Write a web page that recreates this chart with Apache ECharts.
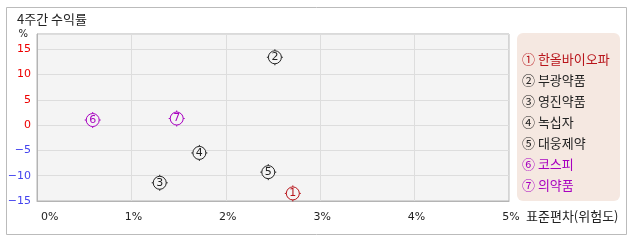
<!DOCTYPE html>
<html><head><meta charset="utf-8">
<script src="https://cdn.jsdelivr.net/npm/echarts@6/dist/echarts.min.js"></script>
<style>html,body{margin:0;padding:0;background:#fff}#c{width:638px;height:242px}</style>
</head><body><div id="c"></div>
<script>
// ---- data ----
const names = ['한올바이오파', '부광약품', '영진약품', '녹십자', '대웅제약', '코스피', '의약품'];
const markNums = ['1', '2', '3', '4', '5', '6', '7'];
const circled = ['①', '②', '③', '④', '⑤', '⑥', '⑦'];
const stdDev = [2.71, 2.52, 1.30, 1.72, 2.45, 0.59, 1.48];      // x: 표준편차 (%)
const returns4w = [-13.5, 13.4, -11.4, -5.5, -9.3, 1.0, 1.3];    // y: 4주간 수익률 (%)
const xTicks = [0, 1, 2, 3, 4, 5];
const yTicks = [-15, -10, -5, 0, 5, 10, 15];

// ---- style ----
const colors = ['#b8141a', '#222222', '#222222', '#222222', '#222222', '#a800c0', '#a800c0'];
const FONT = "'Noto Sans CJK KR', 'DejaVu Sans', sans-serif";
const MARK = 'path://M8,0L8,1.5M8,14.5L8,16M0,8L1.5,8M14.5,8L16,8M14.5,8A6.5,6.5,0,1,1,1.5,8A6.5,6.5,0,1,1,14.5,8Z';

const chart = echarts.init(document.getElementById('c'), null, {renderer: 'canvas'});

const series = names.map((n, i) => ({
  name: n,
  type: 'scatter',
  data: [[stdDev[i], returns4w[i]]],
  symbol: MARK,
  symbolSize: 16,
  itemStyle: {color: '#f4f4f4', borderColor: colors[i], borderWidth: 1, opacity: 1},
  label: {show: true, position: 'inside', formatter: markNums[i], color: colors[i],
          fontSize: 11, fontFamily: 'DejaVu Sans'},
  emphasis: {disabled: true},
  z: 3
}));

chart.setOption({
  animation: false,
  textStyle: {fontFamily: FONT},
  title: {
    text: '4주간 수익률', left: 12, top: 8,
    textStyle: {fontSize: 13, fontWeight: 'normal', color: '#222', fontFamily: FONT}
  },
  graphic: [
    {type: 'rect', shape: {x: 6.5, y: 7.5, width: 620, height: 227}, style: {fill: 'none', stroke: '#bbbbbb', lineWidth: 1}, z: -10},
    {type: 'rect', shape: {x: 517, y: 33, width: 103, height: 168, r: 6}, style: {fill: '#f5e8e1'}, z: -5}
  ],
  grid: {left: 37, top: 34, right: 129, bottom: 41, show: true, backgroundColor: '#f4f4f4', borderColor: '#b4b4b4', borderWidth: 1},
  legend: {
    orient: 'vertical', left: 517, top: 48, icon: 'none', itemWidth: 0, itemHeight: 13, itemGap: 8,
    selectedMode: false,
    data: names.map((n, i) => ({name: n, textStyle: {color: colors[i]}})),
    formatter: n => circled[names.indexOf(n)] + ' ' + n,
    textStyle: {fontSize: 13, fontFamily: FONT, padding: [0, 0, 0, -5]}
  },
  xAxis: {
    type: 'value', min: xTicks[0], max: xTicks[xTicks.length - 1], interval: 1,
    name: '표준편차(위험도)', nameLocation: 'end', nameGap: 17,
    nameTextStyle: {fontSize: 13, color: '#222', verticalAlign: 'top', padding: [9, 0, 0, 0], fontFamily: FONT},
    axisLine: {show: true, onZero: false, lineStyle: {color: '#b4b4b4'}},
    axisTick: {show: false},
    axisLabel: {formatter: v => v + '%', fontSize: 11, color: '#222', margin: 11, fontFamily: 'DejaVu Sans',
                padding: [0, 0, 0, 4], alignMinLabel: 'left'},
    splitLine: {show: true, lineStyle: {color: '#dddddd', width: 1}}
  },
  yAxis: {
    type: 'value', min: yTicks[0], max: 18, interval: 5,
    name: '%', nameLocation: 'end', nameGap: -5,
    nameTextStyle: {fontSize: 10, color: '#222', align: 'right', padding: [0, 9, 0, 0], fontFamily: 'DejaVu Sans'},
    axisLine: {show: true, onZero: false, lineStyle: {color: '#b4b4b4'}},
    axisTick: {show: false},
    axisLabel: {
      fontSize: 11, margin: 6, fontFamily: 'DejaVu Sans',
      formatter: v => (yTicks.indexOf(v) >= 0 ? (v < 0 ? '\u2212' + Math.abs(v) : String(v)) : ''),
      color: v => (Number(v) >= 0 ? '#ee0000' : '#4444ee')
    },
    splitLine: {show: true, lineStyle: {color: '#dddddd', width: 1}}
  },
  series: series
});
</script></body></html>
